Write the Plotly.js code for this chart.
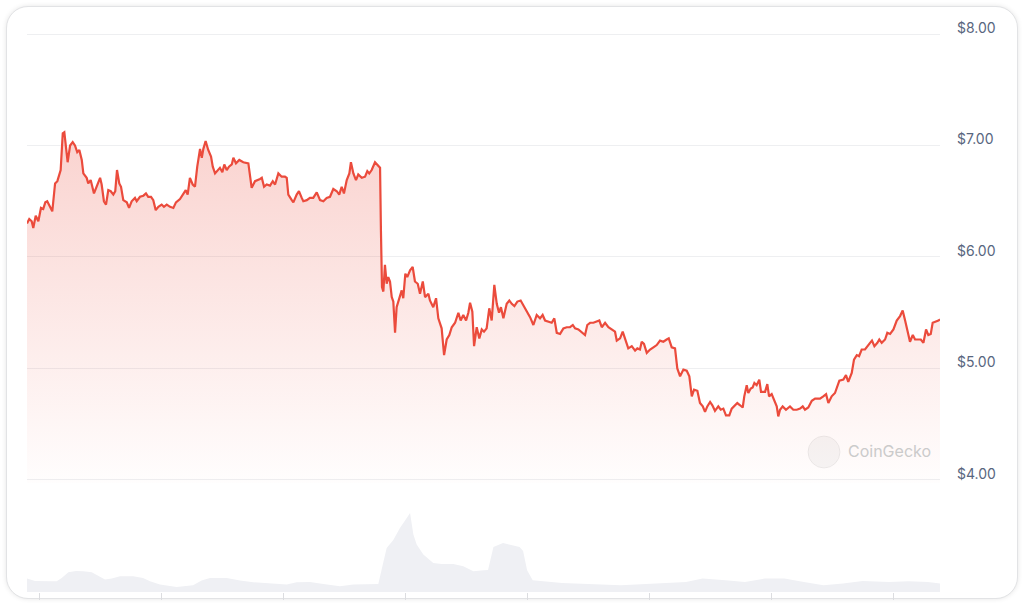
<!DOCTYPE html>
<html>
<head>
<meta charset="utf-8">
<script src="https://cdn.plot.ly/plotly-3.0.1.min.js"></script>
<style>
  html, body { margin: 0; padding: 0; background: #ffffff; width: 1024px; height: 605px; overflow: hidden; }
  #card { position: absolute; left: 6px; top: 6px; width: 1010px; height: 591px; border: 1px solid #e2e3e5; border-radius: 22px; box-shadow: 0 0 5px rgba(0,0,0,0.10); background: #fff; }
  #chart { position: absolute; left: 0; top: 0; width: 1024px; height: 605px; }
</style>
</head>
<body>
<div id="card"></div>
<div id="chart"></div>
<script>
// Price series: day offset from start, price in USD
const priceDays = [0,0.13,0.27,0.36,0.50,0.65,0.80,0.93,1.05,1.16,1.32,1.45,1.61,1.74,1.93,2.05,2.14,2.24,2.33,2.47,2.62,2.75,2.88,3.00,3.14,3.23,3.42,3.51,3.65,3.84,4.03,4.19,4.28,4.41,4.53,4.66,4.80,4.95,5.06,5.16,5.29,5.39,5.52,5.72,5.85,6.00,6.19,6.29,6.48,6.67,6.82,6.95,7.11,7.24,7.38,7.53,7.72,7.85,8.01,8.20,8.39,8.54,8.77,8.96,9.10,9.21,9.34,9.50,9.63,9.76,9.92,10.02,10.11,10.24,10.39,10.55,10.65,10.78,10.97,11.06,11.20,11.31,11.45,11.58,11.74,11.83,11.98,12.17,12.40,12.69,12.88,13.07,13.36,13.46,13.59,13.74,13.93,14.09,14.22,14.41,14.60,14.79,14.89,14.98,15.18,15.27,15.46,15.59,15.75,15.84,16.04,16.22,16.41,16.61,16.80,16.99,17.18,17.37,17.56,17.76,17.90,18.04,18.17,18.33,18.48,18.57,18.71,18.86,18.99,19.19,19.38,19.51,19.62,19.76,19.95,20.14,20.24,20.29,20.35,20.43,20.52,20.62,20.71,20.81,20.91,21.00,21.10,21.19,21.34,21.48,21.57,21.69,21.80,21.96,22.11,22.24,22.40,22.53,22.69,22.82,23.01,23.10,23.29,23.45,23.58,23.77,23.91,24.06,24.21,24.35,24.54,24.73,24.86,25.01,25.17,25.30,25.40,25.53,25.63,25.78,25.93,26.07,26.20,26.35,26.50,26.64,26.79,26.93,27.06,27.17,27.31,27.50,27.65,27.79,27.94,28.11,28.30,28.45,28.68,28.84,29.03,29.22,29.41,29.56,29.70,29.89,30.08,30.23,30.37,30.56,30.75,30.94,31.13,31.29,31.42,31.61,31.76,31.99,32.12,32.28,32.47,32.66,32.81,32.95,33.14,33.33,33.52,33.71,33.81,34.00,34.15,34.28,34.47,34.67,34.86,34.99,35.14,35.24,35.37,35.53,35.72,35.91,36.10,36.29,36.48,36.67,36.79,36.96,37.15,37.28,37.44,37.63,37.82,37.97,38.11,38.24,38.43,38.58,38.74,38.87,39.00,39.16,39.29,39.44,39.63,39.77,39.92,40.07,40.26,40.40,40.59,40.72,40.88,41.03,41.12,41.26,41.35,41.49,41.60,41.70,41.83,41.98,42.08,42.31,42.44,42.54,42.69,42.82,42.98,43.07,43.17,43.32,43.51,43.74,43.93,44.13,44.32,44.47,44.60,44.79,44.99,45.18,45.46,45.65,45.81,45.94,46.13,46.32,46.57,46.80,46.95,47.08,47.28,47.41,47.57,47.70,47.85,48.04,48.17,48.33,48.44,48.58,48.75,48.86,49.00,49.19,49.32,49.48,49.67,49.86,50.05,50.20,50.34,50.49,50.62,50.78,50.91,51.10,51.24,51.39,51.54,51.67,51.81,51.92,52.11,52.25,52.34];
const prices = [6.30,6.34,6.32,6.26,6.37,6.32,6.44,6.43,6.49,6.50,6.45,6.41,6.66,6.68,6.78,7.11,7.12,6.99,6.85,7.00,7.03,7.00,6.94,6.96,6.87,6.75,6.71,6.66,6.69,6.57,6.65,6.71,6.65,6.50,6.47,6.60,6.59,6.56,6.59,6.78,6.66,6.63,6.51,6.49,6.44,6.50,6.53,6.50,6.54,6.55,6.57,6.54,6.54,6.51,6.42,6.45,6.47,6.45,6.47,6.45,6.44,6.49,6.52,6.57,6.60,6.56,6.71,6.65,6.63,6.81,6.97,6.89,6.97,7.04,6.96,6.90,6.81,6.75,6.78,6.80,6.76,6.83,6.78,6.81,6.83,6.89,6.84,6.87,6.85,6.84,6.62,6.68,6.70,6.71,6.63,6.65,6.64,6.68,6.65,6.75,6.72,6.72,6.71,6.56,6.51,6.49,6.56,6.59,6.53,6.50,6.51,6.53,6.53,6.58,6.51,6.50,6.53,6.54,6.61,6.59,6.56,6.63,6.57,6.69,6.75,6.85,6.75,6.69,6.74,6.71,6.72,6.77,6.75,6.78,6.85,6.81,6.80,6.24,5.73,5.69,5.93,5.76,5.82,5.78,5.64,5.60,5.32,5.55,5.64,5.70,5.63,5.85,5.82,5.88,5.91,5.78,5.76,5.67,5.78,5.64,5.67,5.61,5.55,5.63,5.45,5.36,5.12,5.26,5.30,5.37,5.41,5.50,5.43,5.48,5.43,5.50,5.59,5.51,5.20,5.37,5.27,5.35,5.33,5.36,5.54,5.43,5.75,5.58,5.50,5.55,5.45,5.58,5.61,5.58,5.56,5.60,5.61,5.57,5.51,5.46,5.39,5.48,5.45,5.48,5.43,5.42,5.41,5.45,5.32,5.31,5.36,5.37,5.37,5.39,5.36,5.35,5.33,5.30,5.39,5.41,5.41,5.42,5.43,5.37,5.41,5.37,5.35,5.33,5.25,5.27,5.33,5.26,5.18,5.20,5.16,5.18,5.17,5.24,5.22,5.14,5.17,5.19,5.21,5.25,5.24,5.26,5.27,5.19,5.18,5.00,4.93,4.99,4.98,4.93,4.75,4.81,4.80,4.69,4.66,4.61,4.66,4.70,4.67,4.62,4.66,4.63,4.64,4.58,4.58,4.64,4.67,4.69,4.67,4.65,4.75,4.85,4.78,4.82,4.83,4.87,4.85,4.90,4.79,4.79,4.86,4.75,4.77,4.72,4.66,4.57,4.63,4.66,4.63,4.66,4.63,4.63,4.64,4.66,4.63,4.65,4.71,4.73,4.73,4.75,4.77,4.69,4.75,4.78,4.89,4.90,4.94,4.88,4.96,5.08,5.12,5.11,5.17,5.17,5.20,5.23,5.25,5.20,5.23,5.26,5.23,5.26,5.32,5.31,5.35,5.43,5.47,5.52,5.43,5.34,5.24,5.30,5.26,5.26,5.26,5.23,5.35,5.30,5.31,5.41,5.42,5.43,5.44];

// Volume series: day offset, traded volume (USD millions)
const volumeDays = [0,0.46,1.43,1.70,1.99,2.37,2.81,3.23,3.71,4.19,4.47,4.86,5.33,6.09,6.65,7.05,7.62,8.58,9.52,10.01,10.49,11.45,12.21,12.97,14.12,14.89,15.46,16.22,16.99,17.94,18.71,19.48,20.14,20.39,20.62,21.00,21.38,21.77,21.96,22.15,22.34,22.72,23.29,23.77,24.44,25.01,25.59,26.18,26.43,26.74,27.29,28.24,28.44,28.67,28.99,30.67,34.05,37.78,38.73,40.04,41.16,42.29,43.42,44.54,45.66,46.78,47.91,49.42,50.54,51.65,52.34];
const volumes = [6.7,5.5,5.4,5.4,7.0,9.9,10.5,10.4,9.9,7.4,6.2,6.7,7.9,7.9,7.0,5.4,3.7,2.5,3.4,5.7,7.0,7.0,5.7,4.9,4.0,3.7,4.9,5.0,4.0,2.9,3.7,4.0,4.0,13.5,22.0,26.0,32.0,37.0,39.5,28.7,23.7,18.7,14.5,14.0,14.0,12.9,10.4,10.9,11.0,22.5,24.5,22.5,20.5,10.9,5.9,4.5,3.4,5.0,6.7,5.9,5.0,6.7,6.7,5.0,3.4,4.2,5.5,5.0,5.4,5.0,4.2];

const priceTicks = [4, 5, 6, 7, 8];
const priceTickLabels = ['$4.00', '$5.00', '$6.00', '$7.00', '$8.00'];
const watermark = "CoinGecko";

const lineColor = '#eb4b3c';

const traces = [
  {
    x: volumeDays, y: volumes, type: 'scatter', mode: 'lines',
    xaxis: 'x', yaxis: 'y2',
    line: { width: 0, color: '#eef0f4' },
    fill: 'tozeroy', fillcolor: '#eff0f4',
    hoverinfo: 'skip'
  },
  {
    x: priceDays, y: prices, type: 'scatter', mode: 'lines',
    xaxis: 'x', yaxis: 'y',
    line: { width: 2.2, color: lineColor },
    fill: 'tozeroy',
    fillgradient: {
      type: 'vertical',
      start: 3.85, stop: 7.15,
      colorscale: [[0, 'rgba(235,75,60,0.0)'], [1, 'rgba(235,75,60,0.25)']]
    },
    hoverinfo: 'skip'
  }
];

const layout = {
  width: 1024, height: 605,
  margin: { l: 27, r: 84, t: 30, b: 13 },
  paper_bgcolor: 'rgba(0,0,0,0)',
  plot_bgcolor: 'rgba(0,0,0,0)',
  showlegend: false,
  font: { family: 'Inter, "Noto Sans", sans-serif', color: '#58667e' },
  xaxis: {
    range: [0, 52.34],
    anchor: 'y2',
    showgrid: false, zeroline: false, showline: false,
    showticklabels: false,
    ticks: 'outside', ticklen: 7, tickwidth: 1, tickcolor: '#dcdde0',
    tick0: 0.688, dtick: 7
  },
  yaxis: {
    domain: [0.1934, 1],
    range: [3.97, 8.036],
    side: 'right',
    tickmode: 'array',
    tickvals: priceTicks,
    ticktext: priceTickLabels,
    showgrid: true, gridcolor: '#eeeff1', gridwidth: 1,
    zeroline: false, showline: false, ticks: '',
    ticklabelstandoff: 16,
    ticklabelshift: -6,
    tickfont: { size: 14, color: '#58667e', family: 'Inter, "Noto Sans", sans-serif' }
  },
  yaxis2: {
    domain: [0, 0.1986],
    range: [0, 55.8],
    showgrid: false, zeroline: false, showline: false,
    showticklabels: false, ticks: ''
  },
  shapes: [
    { type: 'circle', xref: 'paper', yref: 'paper',
      x0: 0.8554, x1: 0.8905, y0: 0.2206, y1: 0.2776,
      line: { color: 'rgba(0,0,0,0.06)', width: 1 },
      fillcolor: 'rgba(0,0,0,0.035)', layer: 'above' }
  ],
  annotations: [
    { xref: 'paper', yref: 'paper', x: 0.897, y: 0.2509,
      xanchor: 'left', yanchor: 'middle', showarrow: false,
      text: watermark,
      font: { size: 16, color: '#cbcbcb', family: 'Inter, "Noto Sans", sans-serif' } }
  ]
};

Plotly.newPlot('chart', traces, layout, { staticPlot: true, displayModeBar: false });
</script>
</body>
</html>
